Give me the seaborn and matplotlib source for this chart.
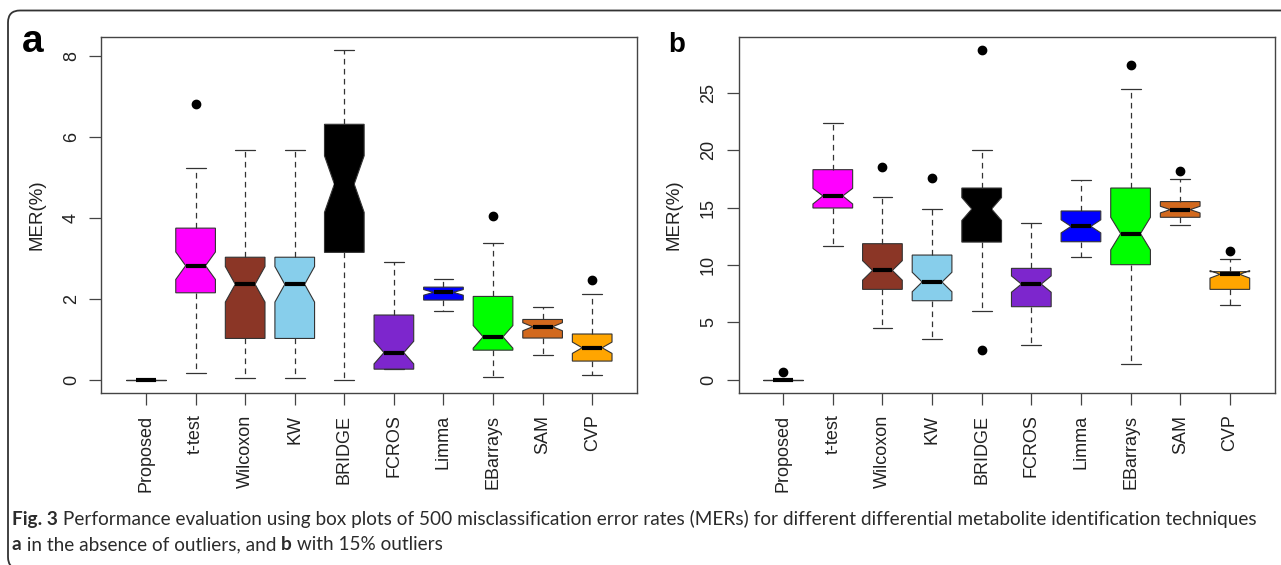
import matplotlib
matplotlib.use("Agg")
import matplotlib.pyplot as plt
import matplotlib.transforms as mtransforms
from matplotlib.patches import FancyBboxPatch
import seaborn as sns

methods = ["Proposed", "t-test", "Wilcoxon", "KW", "BRIDGE",
           "FCROS", "Limma", "EBarrays", "SAM", "CVP"]
box_colors = ["#BEBEBE", "#FF00FF", "#8B3626", "#87CEEB", "#000000",
              "#7D26CD", "#0000FF", "#00FF00", "#D2691E", "#FFA500"]

# (a) in the absence of outliers
a_whislo = [0.0, 0.16, 0.03, 0.03, 0.0, 0.26, 1.70, 0.06, 0.61, 0.12]
a_q1 = [0.0, 2.15, 1.02, 1.02, 3.15, 0.26, 1.97, 0.73, 1.03, 0.46]
a_med = [0.0, 2.82, 2.36, 2.36, 4.84, 0.67, 2.16, 1.06, 1.31, 0.79]
a_q3 = [0.0, 3.75, 3.03, 3.03, 6.32, 1.60, 2.29, 2.06, 1.49, 1.13]
a_whishi = [0.0, 5.23, 5.69, 5.69, 8.16, 2.92, 2.48, 3.38, 1.79, 2.13]
a_cilo = [0.0, 2.48, 1.92, 1.92, 4.14, 0.39, 2.09, 0.78, 1.21, 0.65]
a_cihi = [0.0, 3.16, 2.80, 2.80, 5.54, 0.95, 2.23, 1.34, 1.41, 0.93]
a_fliers = [[], [6.82], [], [], [], [], [], [4.05], [], [2.46]]

# (b) with 15% outliers
b_whislo = [0.0, 11.66, 4.50, 3.52, 6.02, 2.99, 10.70, 1.36, 13.52, 6.54]
b_q1 = [0.0, 14.97, 7.88, 6.89, 12.00, 6.37, 12.03, 10.03, 14.16, 7.88]
b_med = [0.0, 16.02, 9.53, 8.52, 14.88, 8.34, 13.37, 12.74, 14.83, 9.19]
b_q3 = [0.0, 18.31, 11.86, 10.87, 16.71, 9.71, 14.71, 16.71, 15.53, 9.42]
b_whishi = [0.0, 22.36, 15.90, 14.88, 20.03, 13.69, 17.41, 25.38, 17.53, 10.52]
b_cilo = [0.0, 15.32, 8.68, 7.67, 13.88, 7.63, 12.80, 11.32, 14.54, 8.86]
b_cihi = [0.0, 16.68, 10.38, 9.37, 15.88, 9.05, 13.94, 14.16, 15.12, 9.52]
b_fliers = [[0.70], [], [18.58], [17.56], [2.64, 28.72], [], [], [27.44], [18.2], [11.19]]

W, H = 1281, 565

sns.set_theme(style="ticks")
plt.rcParams["font.family"] = ["Liberation Sans", "DejaVu Sans"]


def make_stats(whislo, q1, med, q3, whishi, cilo, cihi, fliers):
    out = []
    for i in range(len(methods)):
        out.append({"whislo": whislo[i], "q1": q1[i], "med": med[i], "q3": q3[i],
                    "whishi": whishi[i], "cilo": cilo[i], "cihi": cihi[i],
                    "fliers": fliers[i], "label": methods[i]})
    return out


def draw_panel(ax, stats, ylim, yticks):
    bp = ax.bxp(stats, positions=range(1, len(methods) + 1), widths=0.8,
                shownotches=True, patch_artist=True,
                boxprops=dict(edgecolor="#333333", linewidth=0.8),
                whiskerprops=dict(color="#333333", linewidth=0.9, linestyle=(0, (4.5, 3.5))),
                capprops=dict(color="#333333", linewidth=0.9),
                medianprops=dict(color="black", linewidth=3.0, solid_capstyle="butt"),
                flierprops=dict(marker="o", markerfacecolor="black", markeredgecolor="black",
                                markersize=6, linestyle="none"))
    for patch, c in zip(bp["boxes"], box_colors):
        patch.set_facecolor(c)
    ax.set_xlim(0.1, 10.9)
    ax.set_ylim(*ylim)
    ax.set_yticks(yticks)
    ax.set_yticklabels([str(t) for t in yticks])
    ax.set_xticks(range(1, len(methods) + 1))
    ax.set_xticklabels(methods, rotation=90)
    for lab in ax.get_yticklabels():
        lab.set_rotation(90)
        lab.set_va("center")
    ax.tick_params(axis="both", length=8.5, width=0.9, color="#444444",
                   labelsize=13, pad=7, labelcolor="#222222")
    for sp in ax.spines.values():
        sp.set_visible(True)
        sp.set_color("#444444")
        sp.set_linewidth(1.0)
    ax.set_ylabel("MER(%)", fontsize=13.5, color="#222222")
    ax.yaxis.set_label_coords(-0.105, 0.5)
    ax.set_facecolor("white")


fig = plt.figure(figsize=(W / 100, H / 100), dpi=100)
ax_a = fig.add_axes([101.4 / W, 1 - 393 / H, 535.4 / W, 356 / H])
ax_b = fig.add_axes([738.5 / W, 1 - 393 / H, 536 / W, 356 / H])

draw_panel(ax_a, make_stats(a_whislo, a_q1, a_med, a_q3, a_whishi, a_cilo, a_cihi, a_fliers),
           (-0.33, 8.48), [0, 2, 4, 6, 8])
draw_panel(ax_b, make_stats(b_whislo, b_q1, b_med, b_q3, b_whishi, b_cilo, b_cihi, b_fliers),
           (-1.15, 29.87), [0, 5, 10, 15, 20, 25])

fig.text(22 / W, 1 - 52 / H, "a", fontsize=28, fontweight="bold", va="baseline", color="black")
fig.text(668 / W, 1 - 52 / H, "b", fontsize=20, fontweight="bold", va="baseline", color="black")

# outer rounded frame
frame = FancyBboxPatch((8, -4), 1290, H - 10.5 + 4, boxstyle="round,pad=0,rounding_size=12",
                       transform=mtransforms.IdentityTransform(), fill=False,
                       edgecolor="#333333", linewidth=1.3)
fig.add_artist(frame)

# caption
cap_family = ["Lato", "DejaVu Sans"]
cap_color = "#2B2B2B"
line1 = [("Fig. 3", "bold"),
         (" Performance evaluation using box plots of 500 misclassification error rates (MERs) "
          "for different differential metabolite identification techniques", "normal")]
line2 = [("a", "bold"), (" in the absence of outliers, and ", "normal"), ("b", "bold"),
         (" with 15% outliers", "normal")]

fig.canvas.draw()
renderer = fig.canvas.get_renderer()


def place_line(parts, x0, y_px, size):
    x = x0
    objs = []
    for txt, weight in parts:
        t = fig.text(x / W, 1 - y_px / H, txt, fontsize=size, fontweight=weight,
                     family=cap_family, va="baseline", ha="left", color=cap_color)
        x += t.get_window_extent(renderer).width
        objs.append(t)
    return x, objs


end, objs = place_line(line1, 12, 525, 14)
size = 14 * (1262 - 12) / (end - 12)
for t in objs:
    t.remove()
place_line(line1, 12, 525, size)
place_line(line2, 12, 550, size)

fig.savefig("out.png", dpi=100)
